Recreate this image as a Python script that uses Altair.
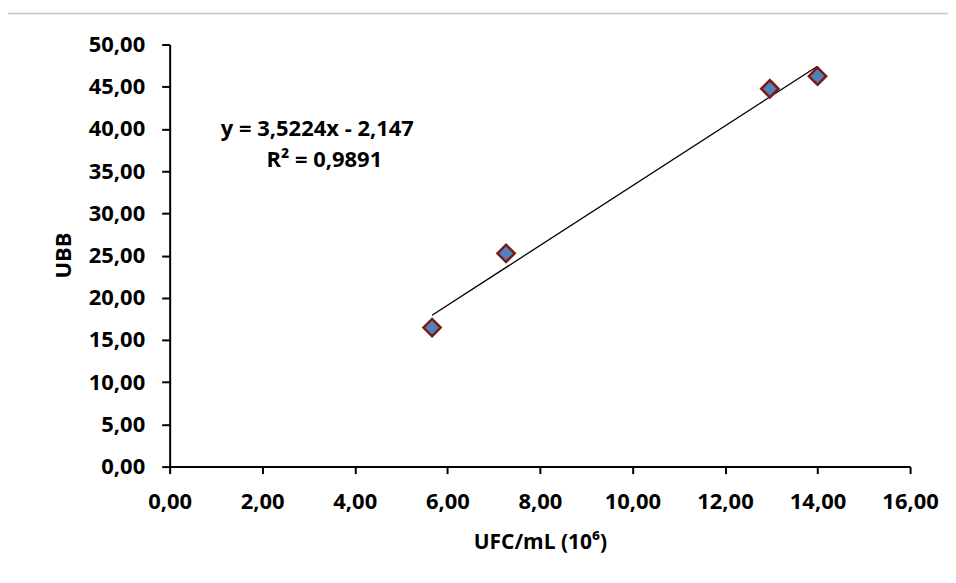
import altair as alt
import pandas as pd

x_vals = [5.67, 7.27, 12.97, 14.0]
y_vals = [16.47, 25.26, 44.76, 46.25]
eq_lines = ["y = 3,5224x - 2,147", "R² = 0,9891"]
x_ticks = [0, 2, 4, 6, 8, 10, 12, 14, 16]
y_ticks = [0, 5, 10, 15, 20, 25, 30, 35, 40, 45, 50]

df = pd.DataFrame({"x": x_vals, "y": y_vals})
FONT = "Open Sans"
lab_expr = "replace(format(datum.value, '.2f'), '.', ',')"

xs = alt.Scale(domain=[0, 16], nice=False, zero=True)
ys = alt.Scale(domain=[0, 50], nice=False, zero=True)

xaxis = alt.Axis(values=x_ticks, labelExpr=lab_expr, title="UFC/mL (10⁶)", grid=False,
                 labelFlush=False, labelOverlap=False,
                 domainColor="black", domainWidth=2, tickColor="black", tickWidth=2, tickSize=7,
                 labelFont=FONT, labelFontSize=22, labelFontWeight="bold", labelColor="black",
                 labelPadding=18, titleFont=FONT, titleFontSize=21, titleFontWeight="bold",
                 titleColor="black", titleY=76, titleBaseline="middle")
yaxis = alt.Axis(values=y_ticks, labelExpr=lab_expr, title="UBB", grid=False,
                 labelFlush=False, labelOverlap=False,
                 domainColor="black", domainWidth=2, tickColor="black", tickWidth=2, tickSize=8,
                 labelFont=FONT, labelFontSize=22, labelFontWeight="bold", labelColor="black",
                 labelPadding=17, titleFont=FONT, titleFontSize=22, titleFontWeight="bold",
                 titleColor="black", titleX=-106, titleY=211, titleBaseline="middle", titleAlign="center")

base = alt.Chart(df)

trend = base.transform_regression("x", "y").mark_line(color="black", strokeWidth=1.3).encode(
    x=alt.X("x:Q", scale=xs, axis=xaxis), y=alt.Y("y:Q", scale=ys, axis=yaxis))

pts = base.mark_point(shape="diamond", size=300, filled=True, fill="#4f81bd", stroke="#7f1a12",
                      strokeWidth=2.5, opacity=1).encode(x="x:Q", y="y:Q")

tdf = pd.DataFrame({"t": eq_lines, "px": [148, 155], "py": [85, 116]})
txt = alt.Chart(tdf).mark_text(font=FONT, fontSize=22, fontWeight="bold", color="black",
                               align="center", baseline="middle").encode(
    text="t:N", x=alt.X("px:Q", scale=None), y=alt.Y("py:Q", scale=None))

border = alt.Chart(pd.DataFrame({"a": [0]})).mark_rule(color="#c8c8c8", strokeWidth=1.5).encode(
    x=alt.value(-165), x2=alt.value(790), y=alt.value(-31))

chart = alt.layer(border, trend, pts, txt).properties(
    width=742, height=423,
    autosize=alt.AutoSizeParams(type="none"),
    padding={"left": 162, "top": 36, "right": 38, "bottom": 100},
).configure_view(stroke=None)

chart.save("out.html", embed_options={"renderer": "svg", "actions": False})
